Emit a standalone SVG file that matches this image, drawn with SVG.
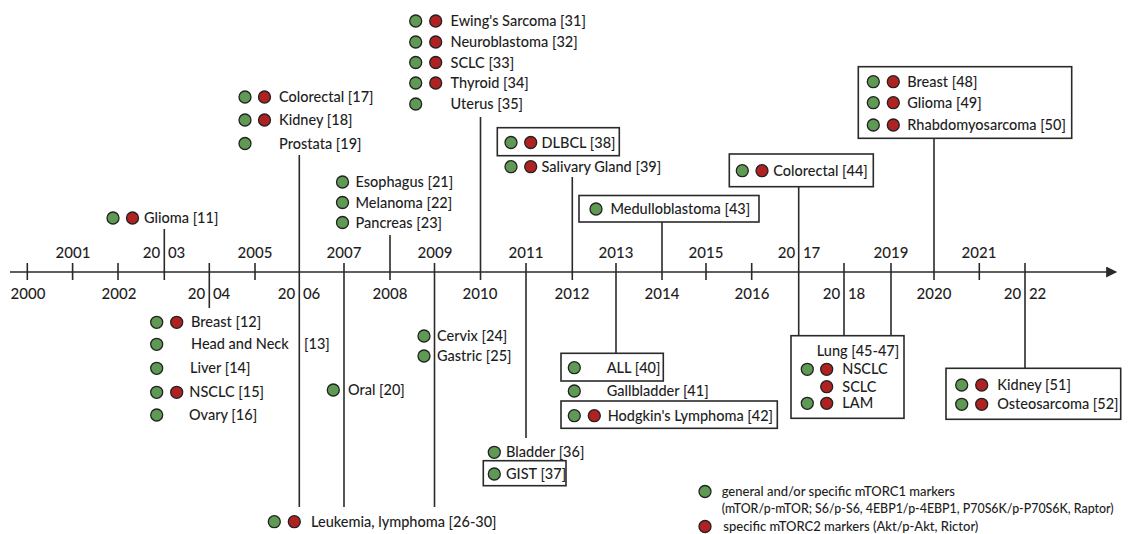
<svg xmlns="http://www.w3.org/2000/svg" width="1128" height="534" viewBox="0 0 1128 534">
<style>
text{font-family:Lato,"Liberation Sans",sans-serif;font-size:14.5px;font-weight:500;fill:#1e1e1e}
.yr{font-size:15px;text-anchor:middle;word-spacing:4px}
.lg{font-size:13px}
.lg2{font-size:12.4px}
.g{fill:#5f9a55;stroke:#222;stroke-width:1.3}
.r{fill:#b02222;stroke:#222;stroke-width:1.3}
.ln{stroke:#2a2a2a;stroke-width:1.6;fill:none}
.bx{fill:#fff;stroke:#2a2a2a;stroke-width:1.6}
</style>
<defs>
<marker id="ah" viewBox="0 0 10 10" refX="9" refY="5" markerWidth="13" markerHeight="11" markerUnits="userSpaceOnUse" orient="auto"><path d="M0,0L10,5L0,10z" fill="#2a2a2a"/></marker>
</defs>
<rect width="1128" height="534" fill="#fff"/>

<g id="axis">
<line class="ln" x1="10" y1="272" x2="1116" y2="272" marker-end="url(#ah)"/>
<g class="ln">
<line x1="27.3" y1="263" x2="27.3" y2="280"/>
<line x1="72.6" y1="263" x2="72.6" y2="280"/>
<line x1="118" y1="263" x2="118" y2="280"/>
<line x1="255" y1="263" x2="255" y2="280"/>
<line x1="706" y1="263" x2="706" y2="280"/>
<line x1="751.7" y1="263" x2="751.7" y2="280"/>
<line x1="979.3" y1="263" x2="979.3" y2="280"/>
</g>
<text class="yr" x="73" y="258">2001</text>
<text class="yr" x="164" y="258">20 03</text>
<text class="yr" x="255" y="258">2005</text>
<text class="yr" x="344" y="258">2007</text>
<text class="yr" x="435" y="258">2009</text>
<text class="yr" x="526" y="258">2011</text>
<text class="yr" x="616" y="258">2013</text>
<text class="yr" x="706" y="258">2015</text>
<text class="yr" x="799" y="258">20 17</text>
<text class="yr" x="891" y="258">2019</text>
<text class="yr" x="979" y="258">2021</text>
<text class="yr" x="28" y="299">2000</text>
<text class="yr" x="119" y="299">2002</text>
<text class="yr" x="209" y="299">20 04</text>
<text class="yr" x="299" y="299">20 06</text>
<text class="yr" x="390" y="299">2008</text>
<text class="yr" x="480" y="299">2010</text>
<text class="yr" x="572" y="299">2012</text>
<text class="yr" x="662" y="299">2014</text>
<text class="yr" x="752" y="299">2016</text>
<text class="yr" x="844" y="299">20 18</text>
<text class="yr" x="934" y="299">2020</text>
<text class="yr" x="1025" y="299">20 22</text>
</g>

<g id="connectors" class="ln">
<line x1="164.3" y1="229" x2="164.3" y2="280"/>
<line x1="209.3" y1="263" x2="209.3" y2="308"/>
<line x1="299.3" y1="155" x2="299.3" y2="507"/>
<line x1="344" y1="263" x2="344" y2="507"/>
<line x1="390" y1="235" x2="390" y2="280"/>
<line x1="434.5" y1="263" x2="434.5" y2="507"/>
<line x1="480.5" y1="117" x2="480.5" y2="280"/>
<line x1="526" y1="263" x2="526" y2="438"/>
<line x1="572.3" y1="177" x2="572.3" y2="280"/>
<line x1="616" y1="263" x2="616" y2="353"/>
<line x1="662" y1="222" x2="662" y2="280"/>
<line x1="798.7" y1="187" x2="798.7" y2="336"/>
<line x1="844" y1="263" x2="844" y2="336"/>
<line x1="891" y1="263" x2="891" y2="336"/>
<line x1="934" y1="138" x2="934" y2="280"/>
<line x1="1025" y1="263" x2="1025" y2="368"/>
</g>

<g id="n-glioma11">
<circle class="g" cx="113" cy="218" r="6"/><circle class="r" cx="132.5" cy="218" r="6"/>
<text x="144" y="223">Glioma [11]</text>
</g>

<g id="n-2005">
<circle class="g" cx="245" cy="97" r="6"/><circle class="r" cx="264.5" cy="97" r="6"/>
<text x="279" y="102">Colorectal [17]</text>
<circle class="g" cx="245" cy="120" r="6"/><circle class="r" cx="264.5" cy="120" r="6"/>
<text x="279" y="125">Kidney [18]</text>
<circle class="g" cx="245" cy="143.5" r="6"/>
<text x="279" y="148.5">Prostata [19]</text>
</g>

<g id="n-2007top">
<circle class="g" cx="342.5" cy="182" r="6"/><text x="355.5" y="187">Esophagus [21]</text>
<circle class="g" cx="342.5" cy="202.5" r="6"/><text x="355.5" y="207.5">Melanoma [22]</text>
<circle class="g" cx="342.5" cy="222.5" r="6"/><text x="355.5" y="227.5">Pancreas [23]</text>
</g>

<g id="n-2010">
<circle class="g" cx="415.7" cy="21" r="6"/><circle class="r" cx="435.7" cy="21" r="6"/><text x="450.5" y="26">Ewing's Sarcoma [31]</text>
<circle class="g" cx="415.7" cy="42" r="6"/><circle class="r" cx="435.7" cy="42" r="6"/><text x="450.5" y="47">Neuroblastoma [32]</text>
<circle class="g" cx="415.7" cy="62.5" r="6"/><circle class="r" cx="435.7" cy="62.5" r="6"/><text x="450.5" y="67.5">SCLC [33]</text>
<circle class="g" cx="415.7" cy="83" r="6"/><circle class="r" cx="435.7" cy="83" r="6"/><text x="450.5" y="88">Thyroid [34]</text>
<circle class="g" cx="415.7" cy="104" r="6"/><text x="450.5" y="109">Uterus [35]</text>
</g>

<g id="n-2012">
<rect class="bx" x="497.3" y="127.7" width="122" height="28"/>
<circle class="g" cx="511" cy="142.5" r="6"/><circle class="r" cx="530.7" cy="142.5" r="6"/><text x="541.5" y="147.5">DLBCL [38]</text>
<circle class="g" cx="511" cy="166.7" r="6"/><circle class="r" cx="530.7" cy="166.7" r="6"/><text x="541.5" y="171.7">Salivary Gland [39]</text>
</g>

<g id="n-2014">
<rect class="bx" x="579" y="195.5" width="180" height="26.5"/>
<circle class="g" cx="596" cy="209" r="6"/><text x="610.5" y="214">Medulloblastoma [43]</text>
</g>

<g id="n-2017">
<rect class="bx" x="729.3" y="154" width="144" height="32.7"/>
<circle class="g" cx="742.3" cy="170.7" r="6"/><circle class="r" cx="762" cy="170.7" r="6"/><text x="773.3" y="175.7">Colorectal [44]</text>
</g>

<g id="n-2020">
<rect class="bx" x="858.3" y="66.7" width="213.4" height="71.6"/>
<circle class="g" cx="873.3" cy="81.7" r="6"/><circle class="r" cx="893.3" cy="81.7" r="6"/><text x="907.3" y="86.7">Breast [48]</text>
<circle class="g" cx="873.3" cy="102.7" r="6"/><circle class="r" cx="893.3" cy="102.7" r="6"/><text x="907.3" y="107.7">Glioma [49]</text>
<circle class="g" cx="873.3" cy="125" r="6"/><circle class="r" cx="893.3" cy="125" r="6"/><text x="907.3" y="130">Rhabdomyosarcoma [50]</text>
</g>

<g id="n-2004">
<circle class="g" cx="156.7" cy="322.3" r="6"/><circle class="r" cx="176.7" cy="322.3" r="6"/><text x="191" y="327.3">Breast [12]</text>
<circle class="g" cx="156.7" cy="344.3" r="6"/><text x="191" y="349.3">Head and Neck <tspan x="304">[13]</tspan></text>
<circle class="g" cx="156.7" cy="368.3" r="6"/><text x="190" y="373.3">Liver [14]</text>
<circle class="g" cx="156.7" cy="392.3" r="6"/><circle class="r" cx="176.7" cy="392.3" r="6"/><text x="189.3" y="397.3">NSCLC [15]</text>
<circle class="g" cx="156.7" cy="415" r="6"/><text x="189" y="420">Ovary [16]</text>
</g>

<g id="n-oral">
<circle class="g" cx="333.3" cy="390" r="6"/><text x="348" y="395">Oral [20]</text>
</g>

<g id="n-2009">
<circle class="g" cx="424" cy="336" r="6"/><text x="437" y="341">Cervix [24]</text>
<circle class="g" cx="424" cy="356" r="6"/><text x="437" y="361">Gastric [25]</text>
</g>

<g id="n-leukemia">
<circle class="g" cx="274.3" cy="521.7" r="6"/><circle class="r" cx="294.3" cy="521.7" r="6"/><text x="311" y="526.7">Leukemia, lymphoma [26-30]</text>
</g>

<g id="n-2011">
<circle class="g" cx="494.3" cy="452.3" r="6"/><text x="506" y="457.3">Bladder [36]</text>
<rect class="bx" x="483.3" y="460.7" width="82.7" height="25"/>
<circle class="g" cx="494.3" cy="474" r="6"/><text x="506" y="479">GIST [37]</text>
</g>

<g id="n-2013">
<rect class="bx" x="561" y="353.3" width="102.3" height="27.7"/>
<circle class="g" cx="574.3" cy="367.7" r="6"/><text x="606.7" y="372.7">ALL [40]</text>
<circle class="g" cx="574.3" cy="391" r="6"/><text x="606.7" y="396">Gallbladder [41]</text>
<rect class="bx" x="561" y="401" width="216.3" height="27.3"/>
<circle class="g" cx="574.3" cy="415.7" r="6"/><circle class="r" cx="594.3" cy="415.7" r="6"/><text x="607.7" y="420.7">Hodgkin's Lymphoma [42]</text>
</g>

<g id="n-lung">
<rect class="bx" x="791" y="335.7" width="113" height="82.6"/>
<text x="816.7" y="355.5">Lung [45-47]</text>
<circle class="g" cx="807.3" cy="369.3" r="6"/><circle class="r" cx="826.7" cy="369.3" r="6"/><text x="842.3" y="374.3">NSCLC</text>
<circle class="r" cx="826.7" cy="386.7" r="6"/><text x="842.3" y="391.7">SCLC</text>
<circle class="g" cx="807.3" cy="403.3" r="6"/><circle class="r" cx="826.7" cy="403.3" r="6"/><text x="842.3" y="408.3">LAM</text>
</g>

<g id="n-2022">
<rect class="bx" x="946" y="368.3" width="174.7" height="51"/>
<circle class="g" cx="961.7" cy="385" r="6"/><circle class="r" cx="981.7" cy="385" r="6"/><text x="997.3" y="390">Kidney [51]</text>
<circle class="g" cx="961.7" cy="404.3" r="6"/><circle class="r" cx="981.7" cy="404.3" r="6"/><text x="997.3" y="409.3">Osteosarcoma [52]</text>
</g>

<g id="legend">
<circle class="g" cx="705" cy="491.5" r="6"/>
<text class="lg" x="721.7" y="496">general and/or specific mTORC1 markers</text>
<text class="lg2" x="721.7" y="512.5">(mTOR/p-mTOR; S6/p-S6, 4EBP1/p-4EBP1, P70S6K/p-P70S6K, Raptor)</text>
<circle class="r" cx="705" cy="526.5" r="6"/>
<text class="lg" x="723.3" y="531">specific mTORC2 markers (Akt/p-Akt, Rictor)</text>
</g>
</svg>
